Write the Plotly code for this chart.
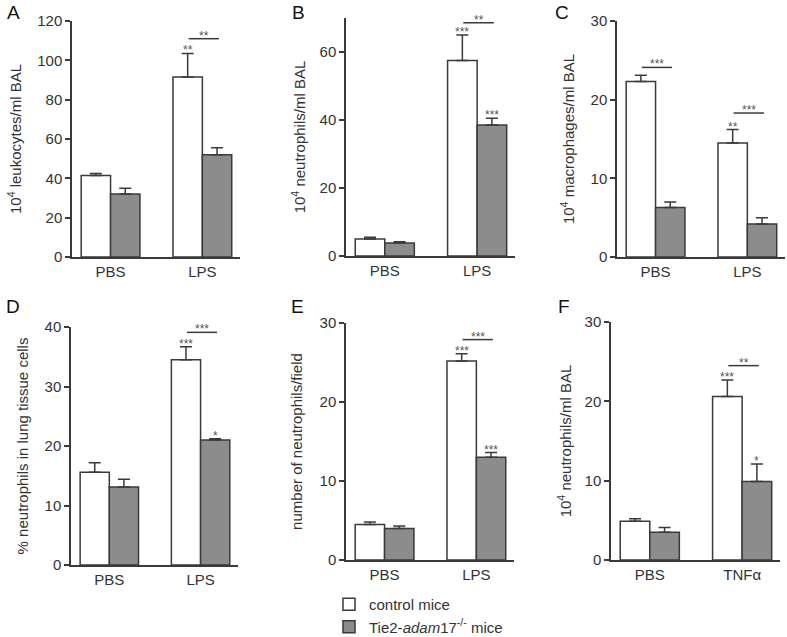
import plotly.graph_objects as go

W, H = 787, 637

# ---------------- data ----------------
groups_lps = ["PBS", "LPS"]
groups_tnf = ["PBS", "TNFα"]

a_ctrl = [41.5, 91.5]; a_ctrl_sem = [1.0, 12.0]
a_ko = [32.0, 52.0];   a_ko_sem = [3.0, 3.5]

b_ctrl = [5.0, 57.5];  b_ctrl_sem = [0.5, 7.5]
b_ko = [3.8, 38.5];    b_ko_sem = [0.4, 2.0]

c_ctrl = [22.3, 14.5]; c_ctrl_sem = [0.8, 1.7]
c_ko = [6.3, 4.2];     c_ko_sem = [0.7, 0.8]

d_ctrl = [15.6, 34.5]; d_ctrl_sem = [1.6, 2.2]
d_ko = [13.1, 21.0];   d_ko_sem = [1.3, 0.2]

e_ctrl = [4.5, 25.2];  e_ctrl_sem = [0.3, 0.9]
e_ko = [4.0, 13.0];    e_ko_sem = [0.3, 0.6]

f_ctrl = [4.9, 20.6];  f_ctrl_sem = [0.3, 2.1]
f_ko = [3.5, 9.9];     f_ko_sem = [0.6, 2.2]

# stars vs PBS (per bar), "" = none
a_ctrl_sig = ["", "**"];   a_ko_sig = ["", ""]
b_ctrl_sig = ["", "***"];  b_ko_sig = ["", "***"]
c_ctrl_sig = ["", "**"];   c_ko_sig = ["", ""]
d_ctrl_sig = ["", "***"];  d_ko_sig = ["", "*"]
e_ctrl_sig = ["", "***"];  e_ko_sig = ["", "***"]
f_ctrl_sig = ["", "***"];  f_ko_sig = ["", "*"]

# bracket comparisons control vs KO: (group index, y level, label)
a_brackets = [(1, 111, "**")]
b_brackets = [(1, 68.6, "**")]
c_brackets = [(0, 24.1, "***"), (1, 18.3, "***")]
d_brackets = [(1, 39.1, "***")]
e_brackets = [(1, 27.9, "***")]
f_brackets = [(1, 24.5, "**")]

y_titles = [
    "10<sup>4</sup> leukocytes/ml BAL",
    "10<sup>4</sup> neutrophils/ml BAL",
    "10<sup>4</sup> macrophages/ml BAL",
    "% neutrophils in lung tissue cells",
    "number of neutrophils/field",
    "10<sup>4</sup> neutrophils/ml BAL",
]
y_max = [120, 70, 30, 40, 30, 30]
y_dtick = [20, 20, 10, 10, 10, 10]
letters = ["A", "B", "C", "D", "E", "F"]

panels = [
    (groups_lps, a_ctrl, a_ctrl_sem, a_ko, a_ko_sem, a_ctrl_sig, a_ko_sig, a_brackets),
    (groups_lps, b_ctrl, b_ctrl_sem, b_ko, b_ko_sem, b_ctrl_sig, b_ko_sig, b_brackets),
    (groups_lps, c_ctrl, c_ctrl_sem, c_ko, c_ko_sem, c_ctrl_sig, c_ko_sig, c_brackets),
    (groups_lps, d_ctrl, d_ctrl_sem, d_ko, d_ko_sem, d_ctrl_sig, d_ko_sig, d_brackets),
    (groups_lps, e_ctrl, e_ctrl_sem, e_ko, e_ko_sem, e_ctrl_sig, e_ko_sig, e_brackets),
    (groups_tnf, f_ctrl, f_ctrl_sem, f_ko, f_ko_sem, f_ctrl_sig, f_ko_sig, f_brackets),
]

# ---------------- layout geometry (pixels) ----------------
# (x_left, x_right, y_top, y_bottom) of each plot area
boxes = [
    (72, 240, 21, 257),
    (346, 515, 18, 256),
    (617, 785, 21, 257),
    (71, 238, 327, 565),
    (346, 514, 323, 560),
    (611, 780, 322, 560),
]
letter_pos = [(13, 12), (298, 12), (562, 12), (13, 306), (297, 306), (564, 306)]
title_standoff = [12, 10, 12, 12, 13, 9]

FONT = "Liberation Sans, Arial, sans-serif"
TXT = "#333333"
LINE = "#3a3a3a"
GRAY = "#8c8c8c"
BW = 0.32  # bar width in group units (bargap 0.36)

fig = go.Figure()
annotations = []
shapes = []
layout_axes = {}

for i, (cats, ctrl, ctrl_sem, ko, ko_sem, ctrl_sig, ko_sig, brackets) in enumerate(panels):
    n = i + 1
    xa = "x" if n == 1 else f"x{n}"
    ya = "y" if n == 1 else f"y{n}"
    xpos = list(range(len(cats)))
    fig.add_trace(go.Bar(
        x=xpos, y=ctrl, name="control mice", legendgroup="ctrl",
        showlegend=(i == 0), xaxis=xa, yaxis=ya,
        marker=dict(color="white", line=dict(color=LINE, width=1.5)),
        error_y=dict(type="data", symmetric=False, array=ctrl_sem,
                     arrayminus=[0] * len(ctrl), color=LINE, thickness=1.5, width=6),
    ))
    fig.add_trace(go.Bar(
        x=xpos, y=ko, name="Tie2-<i>adam</i>17<sup>-/-</sup> mice", legendgroup="ko",
        showlegend=(i == 0), xaxis=xa, yaxis=ya,
        marker=dict(color=GRAY, line=dict(color=LINE, width=1.5)),
        error_y=dict(type="data", symmetric=False, array=ko_sem,
                     arrayminus=[0] * len(ko), color=LINE, thickness=1.5, width=6),
    ))
    x0, x1, yt, yb = boxes[i]
    key = "" if n == 1 else str(n)
    layout_axes[f"xaxis{key}"] = dict(
        domain=[x0 / W, x1 / W], range=[-0.42, 1.41], anchor=ya, automargin=False,
        tickvals=xpos, ticktext=cats, ticks="", showline=True, linecolor=LINE,
        linewidth=1.5, showgrid=False, zeroline=False,
        tickfont=dict(family=FONT, size=15, color=TXT),
    )
    layout_axes[f"yaxis{key}"] = dict(
        domain=[1 - yb / H, 1 - yt / H], range=[0, y_max[i]], anchor=xa, automargin=False,
        dtick=y_dtick[i], tick0=0, ticks="outside", ticklen=5, tickwidth=1.5,
        tickcolor=LINE, showline=True, linecolor=LINE, linewidth=1.5,
        showgrid=False, zeroline=False,
        tickfont=dict(family=FONT, size=15, color=TXT),
        title=dict(text=y_titles[i], font=dict(family=FONT, size=15, color=TXT),
                   standoff=title_standoff[i]),
    )
    # stars over individual bars
    for g in xpos:
        for val, sem, sig, off in ((ctrl[g], ctrl_sem[g], ctrl_sig[g], -BW / 2),
                                   (ko[g], ko_sem[g], ko_sig[g], BW / 2)):
            if sig:
                annotations.append(dict(
                    x=g + off, y=val + sem, xref=xa, yref=ya, text=sig,
                    showarrow=False, yanchor="bottom", yshift=-6,
                    font=dict(family=FONT, size=12, color="#555555"),
                ))
    # brackets
    for g, yl, lab in brackets:
        shapes.append(dict(type="line", xref=xa, yref=ya, x0=g - 0.15, x1=g + 0.18,
                           y0=yl, y1=yl, line=dict(color=LINE, width=1.5)))
        annotations.append(dict(
            x=g + 0.015, y=yl, xref=xa, yref=ya, text=lab, showarrow=False,
            yanchor="bottom", yshift=-6,
            font=dict(family=FONT, size=12, color="#555555"),
        ))
    lx, ly = letter_pos[i]
    annotations.append(dict(
        x=lx / W, y=1 - ly / H, xref="paper", yref="paper", text=letters[i],
        showarrow=False, xanchor="center", yanchor="middle",
        font=dict(family=FONT, size=19, color="#111111"),
    ))

fig.update_layout(
    width=W, height=H, margin=dict(l=0, r=0, t=0, b=0, autoexpand=False),
    paper_bgcolor="white", plot_bgcolor="white",
    barmode="group", bargap=0.36, bargroupgap=0,
    showlegend=True,
    legend=dict(x=329 / W, y=1 - 588 / H, xanchor="left", yanchor="top",
                font=dict(family=FONT, size=15, color=TXT), tracegroupgap=0,
                bgcolor="rgba(0,0,0,0)", itemwidth=30),
    annotations=annotations, shapes=shapes,
    **layout_axes,
)

fig.write_html("out.html", config={"displayModeBar": False},
               post_script="document.body.style.margin='0px';")
